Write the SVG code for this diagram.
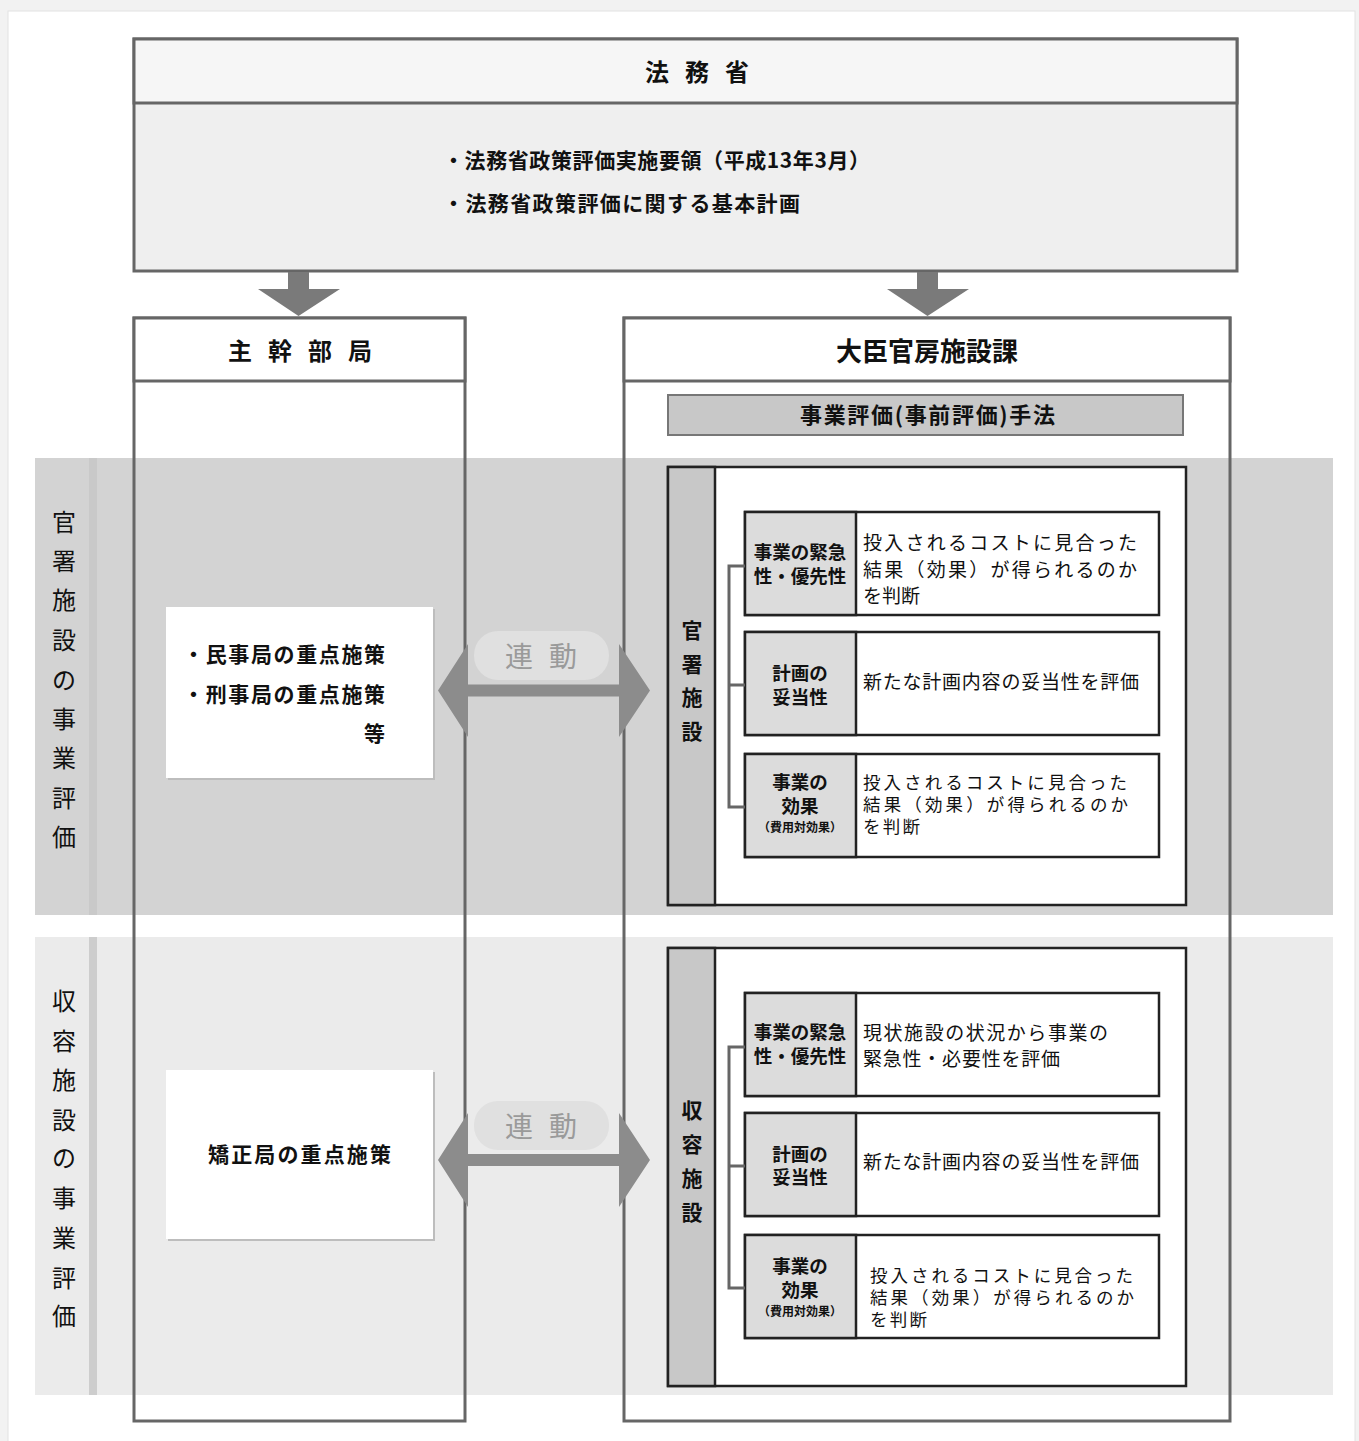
<svg xmlns="http://www.w3.org/2000/svg" width="1359" height="1441" viewBox="0 0 1359 1441">
<style>
.t{font-family:"Noto Sans CJK JP","Noto Sans CJK SC",sans-serif;fill:#111}
.b{font-weight:bold}
.col{fill:none;stroke:#666;stroke-width:3}
.hdr{fill:#fff;stroke:#666;stroke-width:3}
.panel{fill:#fff;stroke:#222;stroke-width:2.5}
.strip{fill:#c8c8c8;stroke:#222;stroke-width:2.5}
.row{fill:#fff;stroke:#222;stroke-width:2.5}
.lab{fill:#dcdcdc;stroke:#222;stroke-width:2.5}
.brk{fill:none;stroke:#666;stroke-width:3}
.darr{fill:#7a7a7a}
.harr{fill:#8c8c8c}
.pill{fill:#e0e0e0}
.pt{font-family:"Noto Sans CJK JP",sans-serif;fill:#9a9a9a;font-size:28px}
.vt{font-size:24px}
.st{font-size:21px}
.lt{font-size:18.5px;font-weight:bold}
.sm{font-size:12px;font-weight:bold}
.dt{font-size:19px}
.dt2{font-size:17.5px}
</style>
<rect x="0" y="0" width="1359" height="1441" fill="#f2f2f2"/>
<rect x="8" y="11" width="1347" height="1440" fill="#fff" stroke="#e2e2e2" stroke-width="1"/>

<!-- bands -->
<g id="band1">
<rect x="35" y="458" width="1298" height="457" fill="#d3d3d3"/>
<rect x="89" y="458" width="8" height="457" fill="#c9c9c9"/>
<text class="t vt" text-anchor="middle" dominant-baseline="central"><tspan x="64" y="520">官</tspan><tspan x="64" y="559">署</tspan><tspan x="64" y="598">施</tspan><tspan x="64" y="638">設</tspan><tspan x="64" y="678">の</tspan><tspan x="64" y="717">事</tspan><tspan x="64" y="756">業</tspan><tspan x="64" y="796">評</tspan><tspan x="64" y="835">価</tspan></text>
</g>
<g id="band2">
<rect x="35" y="937" width="1298" height="458" fill="#ebebeb"/>
<rect x="89" y="937" width="8" height="458" fill="#cdcdcd"/>
<text class="t vt" text-anchor="middle" dominant-baseline="central"><tspan x="64" y="999">収</tspan><tspan x="64" y="1039">容</tspan><tspan x="64" y="1078">施</tspan><tspan x="64" y="1118">設</tspan><tspan x="64" y="1156">の</tspan><tspan x="64" y="1196">事</tspan><tspan x="64" y="1236">業</tspan><tspan x="64" y="1276">評</tspan><tspan x="64" y="1314">価</tspan></text>
</g>

<!-- top box -->
<g id="houmusho">
<rect x="134" y="39" width="1103" height="232" fill="#efefef" stroke="#666" stroke-width="3"/>
<rect x="134" y="39" width="1103" height="64" fill="#f6f6f6" stroke="#666" stroke-width="3"/>
<text class="t b" font-size="24" text-anchor="middle" dominant-baseline="central"><tspan x="657" y="70">法</tspan><tspan x="697" y="70">務</tspan><tspan x="737" y="70">省</tspan></text>
<text class="t b st" x="443" y="168" textLength="427">・法務省政策評価実施要領（平成13年3月）</text>
<text class="t b st" x="443" y="211" textLength="357">・法務省政策評価に関する基本計画</text>
</g>

<!-- left column -->
<g id="shukanbukyoku">
<rect class="col" x="134" y="318" width="331" height="1103"/>
<rect class="hdr" x="134" y="318" width="331" height="63"/>
<text class="t b" font-size="24" text-anchor="middle" dominant-baseline="central"><tspan x="240" y="349">主</tspan><tspan x="280" y="349">幹</tspan><tspan x="320" y="349">部</tspan><tspan x="360" y="349">局</tspan></text>
</g>

<!-- right column -->
<g id="shisetsuka">
<rect class="col" x="624" y="318" width="606" height="1103"/>
<rect class="hdr" x="624" y="318" width="606" height="63"/>
<text class="t b" x="927" y="349" font-size="26" text-anchor="middle" dominant-baseline="central">大臣官房施設課</text>
<rect x="668" y="395" width="515" height="40" fill="#c8c8c8" stroke="#777" stroke-width="2"/>
<text class="t b" x="800" y="423" font-size="22" textLength="255">事業評価(事前評価)手法</text>
</g>

<!-- left content boxes -->
<g id="minji">
<rect x="168" y="609" width="267" height="171" fill="#bdbdbd"/>
<rect x="166" y="607" width="267" height="171" fill="#fff"/>
<text class="t b st" x="183" y="662" textLength="202">・民事局の重点施策</text>
<text class="t b st" x="183" y="702" textLength="202">・刑事局の重点施策</text>
<text class="t b st" x="385" y="741" text-anchor="end">等</text>
</g>
<g id="kyousei">
<rect x="168" y="1072" width="267" height="169" fill="#bdbdbd"/>
<rect x="166" y="1070" width="267" height="169" fill="#fff"/>
<text class="t b st" x="208" y="1162" textLength="183">矯正局の重点施策</text>
</g>

<!-- panel 1 -->
<g id="panel-kansho">
<rect class="panel" x="668" y="467" width="518" height="438"/>
<rect class="strip" x="668" y="467" width="47" height="438"/>
<text class="t b" font-size="21" text-anchor="middle" dominant-baseline="central"><tspan x="692" y="629">官</tspan><tspan x="692" y="663">署</tspan><tspan x="692" y="696">施</tspan><tspan x="692" y="730">設</tspan></text>
</g>
<g id="k-row1">
<rect class="row" x="745" y="512" width="414" height="103"/>
<rect class="lab" x="745" y="512" width="111" height="103"/>
<text class="t lt" x="800" y="559" text-anchor="middle">事業の緊急</text>
<text class="t lt" x="800" y="583" text-anchor="middle">性・優先性</text>
<text class="t dt" x="863" y="550" textLength="274">投入されるコストに見合った</text>
<text class="t dt" x="863" y="577" textLength="274">結果（効果）が得られるのか</text>
<text class="t dt" x="863" y="603">を判断</text>
</g>
<g id="k-row2">
<rect class="row" x="745" y="632" width="414" height="103"/>
<rect class="lab" x="745" y="632" width="111" height="103"/>
<text class="t lt" x="800" y="680" text-anchor="middle">計画の</text>
<text class="t lt" x="800" y="704" text-anchor="middle">妥当性</text>
<text class="t dt" x="863" y="689" textLength="276">新たな計画内容の妥当性を評価</text>
</g>
<g id="k-row3">
<rect class="row" x="745" y="754" width="414" height="103"/>
<rect class="lab" x="745" y="754" width="111" height="103"/>
<text class="t lt" x="800" y="789" text-anchor="middle">事業の</text>
<text class="t lt" x="800" y="813" text-anchor="middle">効果</text>
<text class="t sm" x="800" y="832" text-anchor="middle">（費用対効果）</text>
<text class="t dt2" x="863" y="789" textLength="264">投入されるコストに見合った</text>
<text class="t dt2" x="863" y="811" textLength="265">結果（効果）が得られるのか</text>
<text class="t dt2" x="863" y="833" textLength="57">を判断</text>
</g>

<!-- panel 2 -->
<g id="panel-shuyou">
<rect class="panel" x="668" y="948" width="518" height="438"/>
<rect class="strip" x="668" y="948" width="47" height="438"/>
<text class="t b" font-size="21" text-anchor="middle" dominant-baseline="central"><tspan x="692" y="1109">収</tspan><tspan x="692" y="1143">容</tspan><tspan x="692" y="1177">施</tspan><tspan x="692" y="1211">設</tspan></text>
</g>
<g id="s-row1">
<rect class="row" x="745" y="993" width="414" height="103"/>
<rect class="lab" x="745" y="993" width="111" height="103"/>
<text class="t lt" x="800" y="1039" text-anchor="middle">事業の緊急</text>
<text class="t lt" x="800" y="1063" text-anchor="middle">性・優先性</text>
<text class="t dt" x="863" y="1040" textLength="245">現状施設の状況から事業の</text>
<text class="t dt" x="863" y="1066" textLength="197">緊急性・必要性を評価</text>
</g>
<g id="s-row2">
<rect class="row" x="745" y="1113" width="414" height="103"/>
<rect class="lab" x="745" y="1113" width="111" height="103"/>
<text class="t lt" x="800" y="1161" text-anchor="middle">計画の</text>
<text class="t lt" x="800" y="1184" text-anchor="middle">妥当性</text>
<text class="t dt" x="863" y="1169" textLength="276">新たな計画内容の妥当性を評価</text>
</g>
<g id="s-row3">
<rect class="row" x="745" y="1235" width="414" height="103"/>
<rect class="lab" x="745" y="1235" width="111" height="103"/>
<text class="t lt" x="800" y="1273" text-anchor="middle">事業の</text>
<text class="t lt" x="800" y="1297" text-anchor="middle">効果</text>
<text class="t sm" x="800" y="1316" text-anchor="middle">（費用対効果）</text>
<text class="t dt2" x="870" y="1282" textLength="263">投入されるコストに見合った</text>
<text class="t dt2" x="870" y="1304" textLength="264">結果（効果）が得られるのか</text>
<text class="t dt2" x="870" y="1326" textLength="57">を判断</text>
</g>

<!-- connectors -->
<g id="connectors">
<polygon class="darr" points="288,272 309,272 309,289 340,289 298.5,316 258,289 288,289"/>
<polygon class="darr" points="917,272 938,272 938,289 969,289 927.5,316 887,289 917,289"/>
<path class="brk" d="M745,566 H729 V807 H745 M729,685 H745"/>
<path class="brk" d="M745,1047 H729 V1288 H745 M729,1166 H745"/>
<polygon class="harr" points="438,690.5 468,644 468,684.5 619,684.5 619,644 650,690.5 619,737 619,696.5 468,696.5 468,737"/>
<rect class="pill" x="474" y="631" width="135" height="49" rx="24"/>
<text class="pt" text-anchor="middle" dominant-baseline="central"><tspan x="519" y="655">連</tspan><tspan x="563" y="655">動</tspan></text>
<polygon class="harr" points="438,1160 468,1113 468,1154 619,1154 619,1113 650,1160 619,1207 619,1166 468,1166 468,1207"/>
<rect class="pill" x="474" y="1101" width="135" height="49" rx="24"/>
<text class="pt" text-anchor="middle" dominant-baseline="central"><tspan x="519" y="1125">連</tspan><tspan x="563" y="1125">動</tspan></text>
</g>
</svg>
